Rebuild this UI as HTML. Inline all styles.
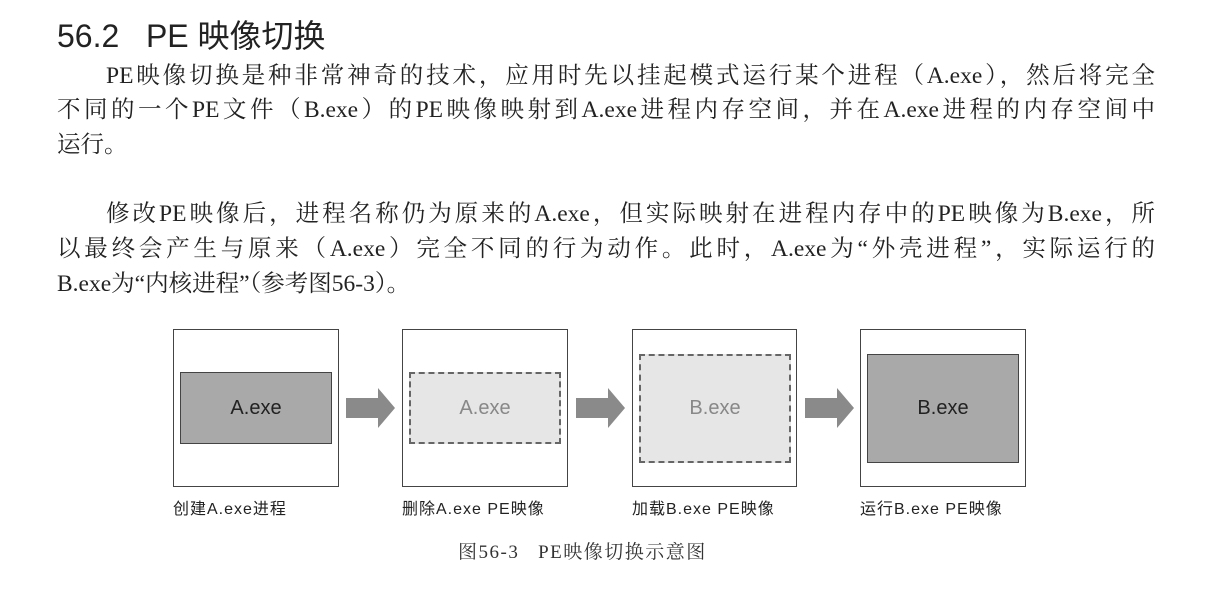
<!DOCTYPE html>
<html><head><meta charset="utf-8"><style>
body{margin:0;width:1212px;height:600px;background:#fff;position:relative;overflow:hidden;color:#222}
.t{position:absolute;left:57px;top:11px;font:32px "Liberation Sans","Noto Sans CJK SC",sans-serif;white-space:pre}
.p{position:absolute;left:57px;width:1098px;font:23.5px "Liberation Serif","Noto Serif CJK SC",serif;line-height:26px;white-space:nowrap}
.j{text-align:justify;text-align-last:justify;white-space:normal}
.box{position:absolute;border:1.5px solid #444;background:#fff;box-sizing:border-box}
.in{position:absolute;box-sizing:border-box;font:20px "Liberation Sans",sans-serif;display:flex;align-items:center;justify-content:center}
.dark{background:#a9a9a9;border:1.5px solid #444;color:#222}
.light{background:#e6e6e6;border:2px dashed #666;color:#888}
.lab{position:absolute;top:495px;font:16px "Liberation Sans","Noto Sans CJK SC",sans-serif;letter-spacing:1px;color:#222}
.cap{position:absolute;left:458px;top:537px;font:19px "Liberation Serif","Noto Serif CJK SC",serif;letter-spacing:1.5px;color:#333;white-space:pre}
</style></head><body>
<div class="t">56.2   PE 映像切换</div>
<div class="p j" style="top:63px;left:106px;width:1049px">PE映像切换是种非常神奇的技术，应用时先以挂起模式运行某个进程（A.exe），然后将完全</div>
<div class="p j" style="top:97px">不同的一个PE文件（B.exe）的PE映像映射到A.exe进程内存空间，并在A.exe进程的内存空间中</div>
<div class="p" style="top:132px">运行。</div>
<div class="p j" style="top:201px;left:106px;width:1049px">修改PE映像后，进程名称仍为原来的A.exe，但实际映射在进程内存中的PE映像为B.exe，所</div>
<div class="p j" style="top:236px">以最终会产生与原来（A.exe）完全不同的行为动作。此时，A.exe为“外壳进程”，实际运行的</div>
<div class="p" style="top:271px">B.exe为“内核进程”（参考图56-3）。</div>

<div class="box" style="left:173px;top:329px;width:166px;height:158px"></div>
<div class="in dark" style="left:180px;top:372px;width:152px;height:72px">A.exe</div>
<div class="box" style="left:402px;top:329px;width:166px;height:158px"></div>
<div class="in light" style="left:409px;top:372px;width:152px;height:72px">A.exe</div>
<div class="box" style="left:632px;top:329px;width:165px;height:158px"></div>
<div class="in light" style="left:639px;top:354px;width:152px;height:109px">B.exe</div>
<div class="box" style="left:860px;top:329px;width:166px;height:158px"></div>
<div class="in dark" style="left:867px;top:354px;width:152px;height:109px">B.exe</div>

<svg style="position:absolute;left:0;top:0" width="1212" height="600">
<g fill="#8a8a8a">
<polygon points="346,398 378,398 378,388 395,408 378,428 378,418 346,418"/>
<polygon points="576,398 608,398 608,388 625,408 608,428 608,418 576,418"/>
<polygon points="805,398 837,398 837,388 854,408 837,428 837,418 805,418"/>
</g></svg>

<div class="lab" style="left:173px">创建A.exe进程</div>
<div class="lab" style="left:402px">删除A.exe PE映像</div>
<div class="lab" style="left:632px">加载B.exe PE映像</div>
<div class="lab" style="left:860px">运行B.exe PE映像</div>
<div class="cap">图56-3   PE映像切换示意图</div>
</body></html>
